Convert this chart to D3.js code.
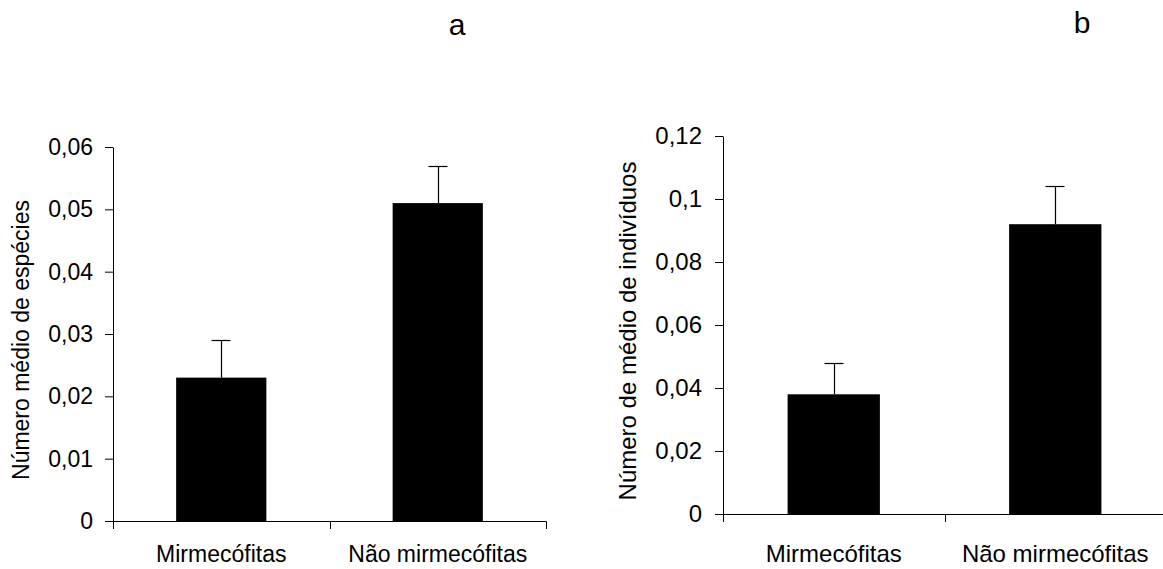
<!DOCTYPE html>
<html>
<head>
<meta charset="utf-8">
<script src="https://cdn.jsdelivr.net/npm/d3@7/dist/d3.min.js"></script>
<style>
  html, body { margin: 0; padding: 0; background: #fff; }
  svg { display: block; font-family: "Liberation Sans", Arial, sans-serif; }
</style>
</head>
<body>
<svg id="chart" width="1163" height="569"></svg>
<script>
// ---- data ----
const categories = ["Mirmecófitas", "Não mirmecófitas"];

const meansA = [0.023, 0.051];
const errorsA = [0.006, 0.006];
const tickValuesA = [0, 0.01, 0.02, 0.03, 0.04, 0.05, 0.06];
const tickLabelsA = ["0", "0,01", "0,02", "0,03", "0,04", "0,05", "0,06"];
const yTitleA = "Número médio de espécies";
const panelLabelA = "a";

const meansB = [0.038, 0.092];
const errorsB = [0.010, 0.012];
const tickValuesB = [0, 0.02, 0.04, 0.06, 0.08, 0.1, 0.12];
const tickLabelsB = ["0", "0,02", "0,04", "0,06", "0,08", "0,1", "0,12"];
const yTitleB = "Número de médio de indivíduos";
const panelLabelB = "b";

const svg = d3.select("#chart");

function drawPanel(cfg) {
  const g = svg.append("g");
  const x = d3.scaleBand().domain(categories).range([cfg.x0, cfg.x1]).padding(0);
  const y = d3.scaleLinear().domain([0, d3.max(cfg.ticks)]).range([cfg.y0, cfg.y1]);

  // bars
  const barW = x.bandwidth() / 2.4;
  const rows = categories.map((c, i) => ({ c, m: cfg.means[i], e: cfg.errors[i] }));
  g.selectAll("rect.bar").data(rows).join("rect")
    .attr("class", "bar")
    .attr("x", d => x(d.c) + (x.bandwidth() - barW) / 2)
    .attr("width", barW)
    .attr("y", d => y(d.m))
    .attr("height", d => y(0) - y(d.m))
    .attr("fill", "#000");

  // error bars (upper only)
  const cap = 19;
  const eb = g.selectAll("g.err").data(rows).join("g").attr("class", "err");
  eb.append("line")
    .attr("x1", d => Math.round(x(d.c) + x.bandwidth() / 2) + 0.5)
    .attr("x2", d => Math.round(x(d.c) + x.bandwidth() / 2) + 0.5)
    .attr("y1", d => y(d.m))
    .attr("y2", d => Math.round(y(d.m + d.e)) + 0.5)
    .attr("stroke", "#000").attr("stroke-width", 1.2);
  eb.append("line")
    .attr("x1", d => Math.round(x(d.c) + x.bandwidth() / 2) - cap / 2)
    .attr("x2", d => Math.round(x(d.c) + x.bandwidth() / 2) + cap / 2)
    .attr("y1", d => Math.round(y(d.m + d.e)) + 0.5)
    .attr("y2", d => Math.round(y(d.m + d.e)) + 0.5)
    .attr("stroke", "#000").attr("stroke-width", 1.2);

  // y axis
  const yAxis = d3.axisLeft(y)
    .tickValues(cfg.ticks)
    .tickFormat((d, i) => cfg.tickLabels[i])
    .tickSize(8).tickSizeOuter(0).tickPadding(cfg.tickPad);
  const ya = g.append("g").attr("transform", `translate(${cfg.x0},0)`).call(yAxis);
  ya.selectAll("text").attr("font-size", cfg.fs).attr("fill", "#000")
    .attr("font-family", "Liberation Sans, Arial, sans-serif");
  ya.selectAll("line, path").attr("stroke", "#000");

  // x axis: domain line with boundary ticks, labels at band centers
  const xAxis = d3.axisBottom(x).tickSize(0).tickSizeOuter(8).tickPadding(0);
  const xa = g.append("g").attr("transform", `translate(0,${cfg.y0})`).call(xAxis);
  xa.selectAll("path").attr("stroke", "#000");
  xa.selectAll(".tick text")
    .attr("y", cfg.labelDy).attr("dy", 0)
    .attr("font-size", cfg.fs).attr("fill", "#000")
    .attr("font-family", "Liberation Sans, Arial, sans-serif");
  // inner boundary ticks between categories
  const boundaries = categories.slice(1).map(c => x(c));
  xa.selectAll("line.bound").data(boundaries).join("line")
    .attr("class", "bound")
    .attr("x1", d => Math.round(d) + 0.5).attr("x2", d => Math.round(d) + 0.5)
    .attr("y1", 0).attr("y2", 8).attr("stroke", "#000");
  // y axis extends below x axis
  g.append("line")
    .attr("x1", cfg.x0 + 0.5).attr("x2", cfg.x0 + 0.5)
    .attr("y1", cfg.y0).attr("y2", cfg.y0 + 8).attr("stroke", "#000");

  // y title
  g.append("text")
    .attr("transform", `translate(${cfg.titleX},${(cfg.y0 + cfg.y1) / 2 + 6}) rotate(-90)`)
    .attr("text-anchor", "middle")
    .attr("dominant-baseline", "central")
    .attr("font-size", cfg.fs).attr("fill", "#000")
    .text(cfg.yTitle);

  // panel label
  g.append("text")
    .attr("x", cfg.panelX).attr("y", cfg.panelY)
    .attr("text-anchor", "middle")
    .attr("font-size", 30).attr("fill", "#000")
    .text(cfg.panelLabel);
}

drawPanel({
  x0: 113, x1: 546, y0: 521, y1: 147,
  means: meansA, errors: errorsA, ticks: tickValuesA, tickLabels: tickLabelsA,
  yTitle: yTitleA, panelLabel: panelLabelA,
  fs: 23, tickPad: 12, labelDy: 41, titleX: 21, panelX: 457, panelY: 35
});

drawPanel({
  x0: 723, x1: 1166, y0: 514, y1: 136,
  means: meansB, errors: errorsB, ticks: tickValuesB, tickLabels: tickLabelsB,
  yTitle: yTitleB, panelLabel: panelLabelB,
  fs: 24, tickPad: 13, labelDy: 48, titleX: 627, panelX: 1082, panelY: 33
});
</script>
</body>
</html>
